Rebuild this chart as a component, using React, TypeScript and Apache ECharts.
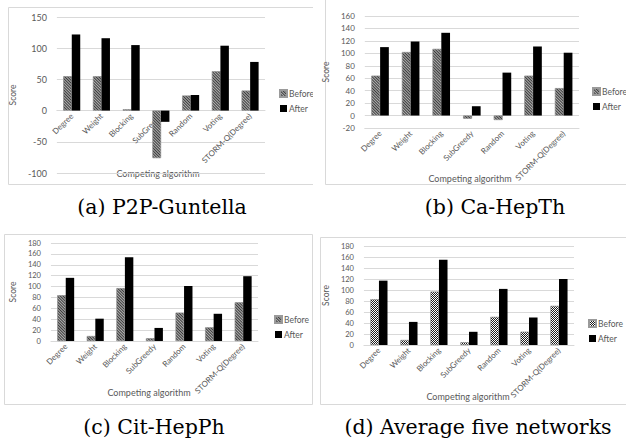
import React, { useEffect, useRef } from "react";
import * as echarts from "echarts";

const categories = ["Degree", "Weight", "Blocking", "SubGreedy", "Random", "Voting", "STORM-Q(Degree)"];

const beforeA = [55, 55, 2, -76, 24, 63, 32];
const afterA = [122, 116, 105, -18, 25, 104, 78];
const beforeB = [64, 102, 107, -5, -7, 64, 44];
const afterB = [110, 119, 133, 15, 69, 111, 101];
const beforeC = [84, 9, 97, 5, 52, 25, 71];
const afterC = [116, 41, 154, 24, 101, 50, 119];
const beforeD = [83, 9, 97, 5, 51, 24, 71];
const afterD = [117, 42, 155, 24, 102, 50, 120];

const captions = ["(a) P2P-Guntella", "(b) Ca-HepTh", "(c) Cit-HepPh", "(d) Average five networks"];

const FONT = "Lato, 'Open Sans', sans-serif";
const GRAY = "#595959";

const stripe = {
  symbol: "rect",
  symbolSize: 1,
  color: "#3a3a3a",
  dashArrayX: [1, 0],
  dashArrayY: [1, 1],
  rotation: Math.PI / 4,
};
const checker = {
  symbol: "rect",
  symbolSize: 1,
  color: "#1a1a1a",
  dashArrayX: [[1, 1], [0, 1, 1, 0]],
  dashArrayY: [1, 0],
  rotation: 0,
};

type Panel = {
  box: { left: number; top: number; w: number; h: number };
  before: number[];
  after: number[];
  border: { x: number; y: number; w: number; h: number };
  grid: { left: number; top: number; width: number; height: number };
  y: { min: number; max: number; interval: number };
  tickFont: number;
  xOffset: number;
  scoreGap: number;
  xTitle: { x: number; y: number };
  legend: { left: number; top: number };
  caption: { x: number; y: number; text: string };
  pattern: any;
  baseColor: string;
};

const panels: Panel[] = [
  {
    box: { left: 0, top: 0, w: 313, h: 221 },
    before: beforeA, after: afterA,
    border: { x: 8, y: 7, w: 305, h: 177 },
    grid: { left: 52, top: 17, width: 213, height: 156 },
    y: { min: -100, max: 150, interval: 50 },
    tickFont: 9, xOffset: -62.4, scoreGap: 25,
    xTitle: { x: 158, y: 173 },
    legend: { left: 279, top: 89 },
    caption: { x: 162, y: 207, text: captions[0] },
    pattern: stripe, baseColor: "#b0b0b0",
  },
  {
    box: { left: 313, top: 0, w: 313, h: 221 },
    before: beforeB, after: afterB,
    border: { x: 12, y: -1, w: 310, h: 185 },
    grid: { left: 49, top: 16, width: 217, height: 112 },
    y: { min: -20, max: 160, interval: 20 },
    tickFont: 8, xOffset: 0, scoreGap: 22,
    xTitle: { x: 157, y: 178 },
    legend: { left: 279, top: 87 },
    caption: { x: 182, y: 207, text: captions[1] },
    pattern: stripe, baseColor: "#b0b0b0",
  },
  {
    box: { left: 0, top: 221, w: 313, h: 222 },
    before: beforeC, after: afterC,
    border: { x: 4, y: 13, w: 308, h: 170 },
    grid: { left: 43, top: 22, width: 215, height: 98 },
    y: { min: 0, max: 180, interval: 20 },
    tickFont: 7.5, xOffset: 0, scoreGap: 25,
    xTitle: { x: 149, y: 171 },
    legend: { left: 274, top: 94 },
    caption: { x: 154, y: 206, text: captions[2] },
    pattern: stripe, baseColor: "#b0b0b0",
  },
  {
    box: { left: 313, top: 221, w: 313, h: 222 },
    before: beforeD, after: afterD,
    border: { x: 7, y: 16, w: 310, h: 167 },
    grid: { left: 43, top: 25, width: 218, height: 99 },
    y: { min: 0, max: 180, interval: 20 },
    tickFont: 7.5, xOffset: 0, scoreGap: 25,
    xTitle: { x: 155, y: 175 },
    legend: { left: 275, top: 98 },
    caption: { x: 165, y: 206, text: captions[3] },
    pattern: checker, baseColor: "#ffffff",
  },
];

function buildOption(p: Panel) {
  return {
    animation: false,
    grid: { ...p.grid, containLabel: false },
    legend: {
      orient: "vertical",
      left: p.legend.left,
      top: p.legend.top,
      padding: 0,
      itemWidth: 7,
      itemHeight: 7,
      itemGap: 6,
      icon: "rect",
      textStyle: { fontFamily: FONT, fontSize: 8.5, color: GRAY, padding: [0, 0, 0, -3], overflow: "none", width: 40 },
      data: ["Before", "After"],
    },
    xAxis: {
      type: "category",
      data: categories,
      position: "bottom",
      offset: p.xOffset,
      axisLine: { show: true, onZero: false, lineStyle: { color: "#d9d9d9" } },
      axisTick: { show: false },
      axisLabel: {
        rotate: 45,
        interval: 0,
        margin: 4,
        fontFamily: FONT,
        fontSize: 8,
        color: GRAY,
      },
    },
    yAxis: {
      type: "value",
      min: p.y.min,
      max: p.y.max,
      interval: p.y.interval,
      name: "Score",
      nameLocation: "middle",
      nameGap: p.scoreGap,
      nameTextStyle: { fontFamily: FONT, fontSize: 8.5, color: GRAY },
      axisLine: { show: false },
      axisTick: { show: false },
      splitLine: { lineStyle: { color: "#d9d9d9", width: 1 } },
      axisLabel: { fontFamily: FONT, fontSize: p.tickFont, color: GRAY, margin: 10 },
    },
    series: [
      {
        name: "Before",
        type: "bar",
        data: p.before,
        barGap: "0%",
        barCategoryGap: "43%",
        itemStyle: { color: p.baseColor, decal: p.pattern, borderColor: "#9a9a9a", borderWidth: 0.5 },
      },
      {
        name: "After",
        type: "bar",
        data: p.after,
        barGap: "0%",
        barCategoryGap: "43%",
        itemStyle: { color: "#000000" },
      },
    ],
    graphic: [
      {
        type: "rect",
        silent: true,
        z: -1,
        shape: { x: p.border.x + 0.5, y: p.border.y + 0.5, width: p.border.w, height: p.border.h },
        style: { fill: "none", stroke: "#d9d9d9", lineWidth: 1 },
      },
      {
        type: "text",
        x: p.xTitle.x,
        y: p.xTitle.y,
        style: {
          text: "Competing algorithm",
          fontFamily: FONT,
          fontSize: 9,
          fill: GRAY,
          align: "center",
          verticalAlign: "middle",
        },
      },
      {
        type: "text",
        x: p.caption.x,
        y: p.caption.y,
        style: {
          text: p.caption.text,
          fontFamily: "DejaVu Serif",
          fontSize: 20.5,
          fill: "#000",
          align: "center",
          verticalAlign: "middle",
        },
      },
    ],
  };
}

function ChartPanel({ p }: { p: Panel }) {
  const ref = useRef<HTMLDivElement>(null);
  useEffect(() => {
    if (!ref.current) return;
    const chart = echarts.init(ref.current, null, { renderer: "svg" });
    chart.setOption(buildOption(p) as any);
    return () => chart.dispose();
  }, [p]);
  return (
    <div
      ref={ref}
      style={{
        position: "absolute",
        left: p.box.left,
        top: p.box.top,
        width: p.box.w,
        height: p.box.h,
        overflow: "hidden",
      }}
    />
  );
}

export default function App() {
  return (
    <div style={{ position: "absolute", left: 0, top: 0, width: 626, height: 443, background: "#fff" }}>
      {panels.map((p, i) => (
        <ChartPanel key={i} p={p} />
      ))}
    </div>
  );
}
